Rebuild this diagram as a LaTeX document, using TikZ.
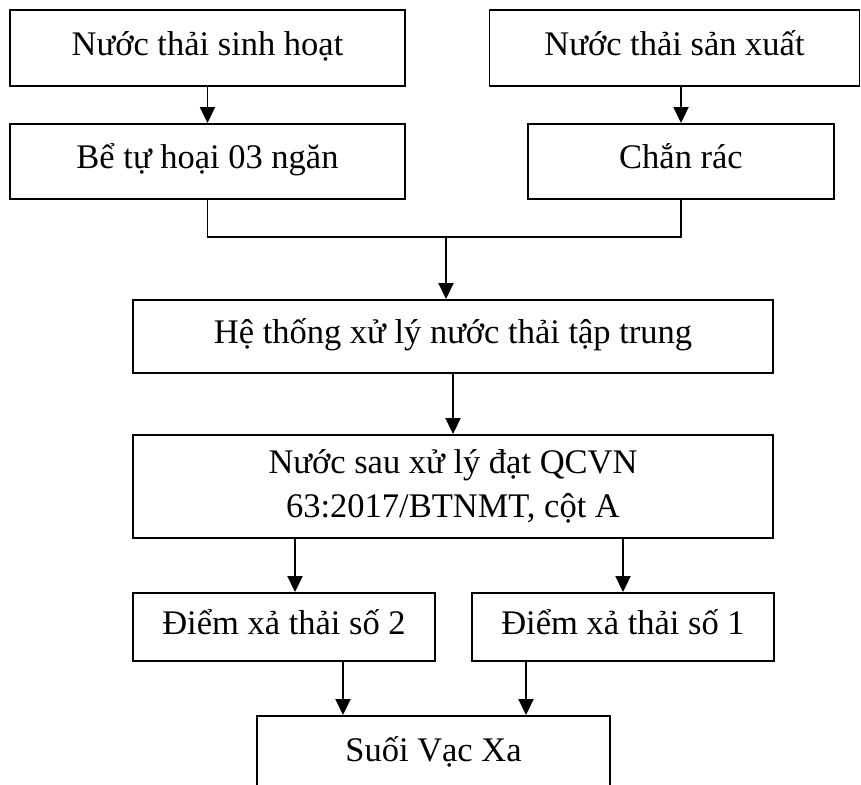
\documentclass[tikz,border=0pt]{standalone}
\usepackage{fontspec}
\setmainfont{Liberation Serif}
\usetikzlibrary{arrows.meta}
\begin{document}
\begin{tikzpicture}[x=1pt,y=-1pt,
  flowbox/.style={draw, line width=1.9pt, inner sep=0pt, align=center,
    font=\fontsize{34.5}{43.5}\selectfont},
  onebox/.style={flowbox, text height=24pt, text depth=9.2pt},
  link/.style={line width=1.9pt},
  arr/.style={link, -{Triangle[length=16pt,width=15pt]}}]
\clip (0,0) rectangle (861,784);

% sources and pre-treatment
\node[onebox, minimum width=395pt, minimum height=76pt] (A) at (207.5,48) {Nước thải sinh hoạt};
\node[onebox, minimum width=370pt, minimum height=76pt] (B) at (674.5,48) {Nước thải sản xuất};
\node[onebox, minimum width=395pt, minimum height=75pt] (C) at (207.5,161.5) {Bể tự hoại 03 ngăn};
\node[onebox, minimum width=306pt, minimum height=75pt] (D) at (681,161.5) {Chắn rác};

% central treatment
\node[onebox, minimum width=640pt, minimum height=73pt] (E) at (453,336.5) {Hệ thống xử lý nước thải tập trung};
\node[flowbox, minimum width=640pt, minimum height=103pt] (F) at (453,486.5) {Nước sau xử lý đạt QCVN\\63:2017/BTNMT, cột A};

% discharge points and receiving stream
\node[onebox, minimum width=302pt, minimum height=68pt] (G) at (284,627) {Điểm xả thải số 2};
\node[onebox, minimum width=302pt, minimum height=68pt] (H) at (623,627) {Điểm xả thải số 1};
\node[onebox, minimum width=353pt, minimum height=76pt] (I) at (433.5,754) {Suối Vạc Xa};

% connectors
\draw[arr] (A.south) -- (C.north);
\draw[arr] (D.north |- B.south) -- (D.north);
\coordinate (J) at (446,237);
\draw[link] (C.south) |- (J) -| (D.south);
\draw[arr] (J) -- (J |- E.north);
\draw[arr] (E.south) -- (F.north);
\draw[arr] ([xshift=11pt]G.north |- F.south) -- ([xshift=11pt]G.north);
\draw[arr] (H.north |- F.south) -- (H.north);
\draw[arr] ([xshift=-90.5pt]I.north |- G.south) -- ([xshift=-90.5pt]I.north);
\draw[arr] ([xshift=92.5pt]I.north |- H.south) -- ([xshift=92.5pt]I.north);
\end{tikzpicture}
\end{document}
